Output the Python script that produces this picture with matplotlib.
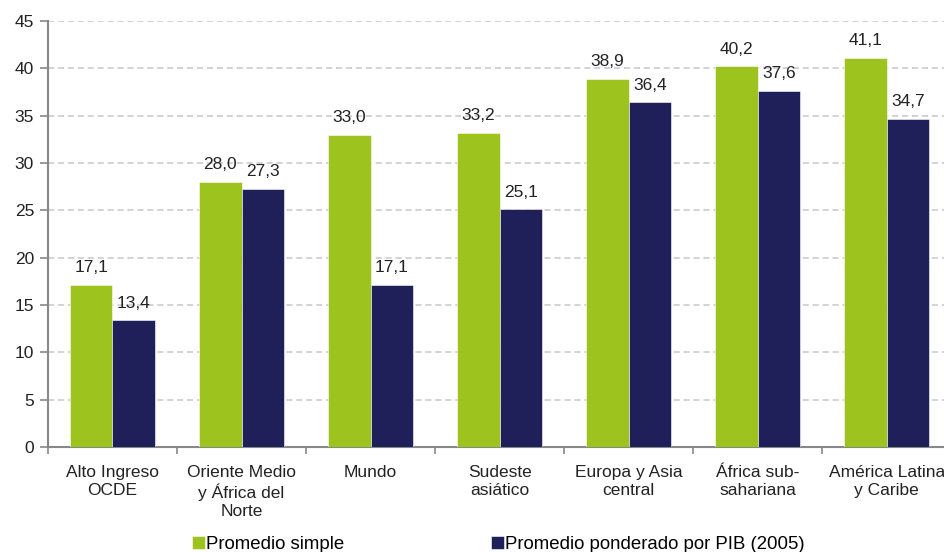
import matplotlib.pyplot as plt
import numpy as np

plt.rcParams['font.family'] = ['Liberation Sans', 'DejaVu Sans']

categories = ["Alto Ingreso\nOCDE", "Oriente Medio\ny África del\nNorte", "Mundo",
              "Sudeste\nasiático", "Europa y Asia\ncentral", "África sub-\nsahariana",
              "América Latina\ny Caribe"]
simple = [17.1, 28.0, 33.0, 33.2, 38.9, 40.2, 41.1]
ponderado = [13.4, 27.3, 17.1, 25.1, 36.4, 37.6, 34.7]
series_names = ["Promedio simple", "Promedio ponderado por PIB (2005)"]

green = "#9dc31f"
navy = "#1f205a"
fs = 12.5

fig = plt.figure(figsize=(9.44, 5.52), dpi=100)
ax = fig.add_axes([0.0508, 0.190, 0.957, 0.772])

x = np.arange(len(categories))
w = 0.33
b1 = ax.bar(x - w / 2, simple, w, color=green, edgecolor="white", linewidth=0.4,
            label=series_names[0], zorder=3)
b2 = ax.bar(x + w / 2, ponderado, w, color=navy, edgecolor="white", linewidth=0.4,
            label=series_names[1], zorder=3)

for bars, vals in [(b1, simple), (b2, ponderado)]:
    for r, v in zip(bars, vals):
        ax.annotate(f"{v:.1f}".replace(".", ","), (r.get_x() + r.get_width() / 2, v),
                    xytext=(0, 7), textcoords="offset points", ha="center", va="bottom",
                    fontsize=fs, color="#222222")

ax.set_xlim(-0.5, len(categories) - 0.5)
ax.set_ylim(0, 45)
ax.set_yticks(range(0, 46, 5))
ax.yaxis.grid(True, linestyle=(0, (4, 2.5)), color="#c8c8c8", linewidth=1.1, zorder=0)

ax.set_xticks(x)
ax.set_xticklabels(categories, fontsize=fs, linespacing=1.25, color="#222222")
ax.set_xticks(np.arange(-0.5, len(categories), 1), minor=True)
ax.tick_params(axis="x", which="major", length=0, pad=13)
ax.tick_params(axis="x", which="minor", length=5, color="#888888", width=1.2)
ax.tick_params(axis="y", length=6, color="#888888", width=1.2, labelsize=fs,
               labelcolor="#222222", pad=4)

for s in ["top", "right"]:
    ax.spines[s].set_visible(False)
for s in ["left", "bottom"]:
    ax.spines[s].set_color("#888888")
    ax.spines[s].set_linewidth(1.5)

fig.legend(handles=[b1, b2], labels=series_names, loc="center",
           bbox_to_anchor=(0.528, 0.014), ncol=2, frameon=False, fontsize=13.4,
           handlelength=0.7, handleheight=0.7, handletextpad=0.08, columnspacing=7.85)

fig.savefig("out.png", dpi=100)
